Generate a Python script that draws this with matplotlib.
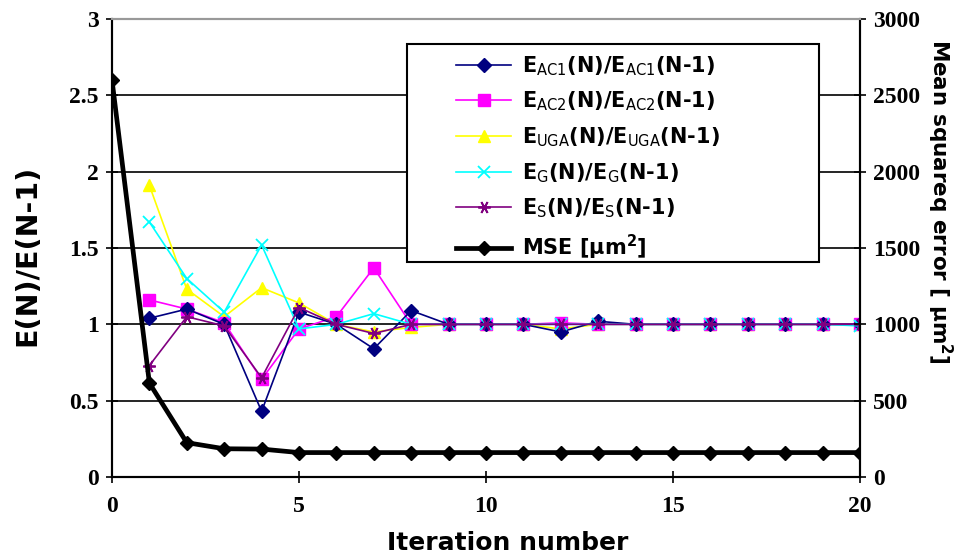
import matplotlib
matplotlib.use("Agg")
import matplotlib.pyplot as plt
from matplotlib.lines import Line2D
from matplotlib.patches import Rectangle
from matplotlib.font_manager import FontProperties

plt.rcParams['font.family'] = ['DejaVu Sans']
plt.rcParams['mathtext.fontset'] = 'custom'
plt.rcParams['mathtext.rm'] = 'DejaVu Sans'
plt.rcParams['mathtext.bf'] = 'DejaVu Sans:bold'
plt.rcParams['mathtext.it'] = 'DejaVu Sans:italic'

# ---- data ----
iters_ratio = [1, 2, 3, 4, 5, 6, 7, 8, 9, 10, 11, 12, 13, 14, 15, 16, 17, 18, 19, 20]
e_ac1 = [1.04, 1.10, 1.00, 0.43, 1.08, 1.00, 0.84, 1.09, 1.00, 1.00, 1.00, 0.95, 1.02, 1.00, 1.00, 1.00, 1.00, 1.00, 1.00, 1.00]
e_ac2 = [1.16, 1.10, 1.01, 0.64, 0.97, 1.05, 1.37, 1.00, 1.00, 1.00, 1.00, 1.01, 1.00, 1.00, 1.00, 1.00, 1.00, 1.00, 1.00, 1.00]
e_uga = [1.91, 1.23, 1.05, 1.24, 1.14, 1.00, 0.95, 0.98, 1.00, 1.00, 1.00, 0.97, 1.00, 1.00, 1.00, 1.00, 1.00, 1.00, 1.00, 1.00]
e_g   = [1.67, 1.30, 1.08, 1.52, 0.97, 1.00, 1.07, 1.00, 1.00, 1.00, 1.00, 1.00, 1.00, 1.00, 1.00, 1.00, 1.00, 1.00, 1.00, 0.99]
e_s   = [0.73, 1.05, 0.99, 0.65, 1.11, 1.00, 0.94, 1.00, 1.00, 1.00, 1.00, 1.00, 1.00, 1.00, 1.00, 1.00, 1.00, 1.00, 1.00, 1.00]
iters_mse = list(range(0, 21))
mse = [2600, 615, 225, 185, 183, 160, 160, 160, 160, 160, 160, 160, 160, 160, 160, 160, 160, 160, 160, 160, 160]

x_ticks = [0, 5, 10, 15, 20]
y_ticks = [0, 0.5, 1, 1.5, 2, 2.5, 3]
y_tick_labels = ['0', '0.5', '1', '1.5', '2', '2.5', '3']
y2_ticks = [0, 500, 1000, 1500, 2000, 2500, 3000]

labels = [r'E$_{\mathrm{AC1}}$(N)/E$_{\mathrm{AC1}}$(N-1)',
          r'E$_{\mathrm{AC2}}$(N)/E$_{\mathrm{AC2}}$(N-1)',
          r'E$_{\mathrm{UGA}}$(N)/E$_{\mathrm{UGA}}$(N-1)',
          r'E$_{\mathrm{G}}$(N)/E$_{\mathrm{G}}$(N-1)',
          r'E$_{\mathrm{S}}$(N)/E$_{\mathrm{S}}$(N-1)',
          r'MSE [μm$^{\mathbf{2}}$]']

fig = plt.figure(figsize=(9.65, 5.59), dpi=100)
ax = fig.add_axes([112/965, 1-477/559, (860-112)/965, (477-19)/559])
ax2 = ax.twinx()

tickfont = FontProperties(family='Liberation Serif', weight='bold', size=17)

asterisk = (6, 2, 90)
styles = [
    dict(color='#000080', marker='D', ms=7, lw=1.2),
    dict(color='#FF00FF', marker='s', ms=8, lw=1.2),
    dict(color='#FFFF00', marker='^', ms=9, lw=1.2),
    dict(color='#00FFFF', marker='x', ms=8, mew=1.3, lw=1.2),
    dict(color='#800080', marker=asterisk, ms=9, mew=1.3, lw=1.2),
]
mse_style = dict(color='black', marker='D', ms=7, lw=3.4)

for series, st, z in zip([e_ac1, e_ac2, e_uga, e_g, e_s], styles, [5, 4, 3, 6, 7]):
    ax.plot(iters_ratio, series, zorder=z, **st)

ax2.plot(iters_mse, mse, zorder=5, **mse_style)

ax.set_xlim(0, 20)
ax.set_ylim(0, 3)
ax2.set_ylim(0, 3000)
ax.set_xticks(x_ticks)
ax.set_yticks(y_ticks)
ax.set_yticklabels(y_tick_labels)
ax2.set_yticks(y2_ticks)

for a in (ax, ax2):
    a.tick_params(direction='inout', length=9, width=1.2, pad=5)
    for lab in a.get_xticklabels() + a.get_yticklabels():
        lab.set_fontproperties(tickfont)
ax.tick_params(axis='x', pad=9)

for y in [0.5, 1, 1.5, 2, 2.5]:
    ax.axhline(y, color='black', lw=1.2, zorder=1)

for a in (ax, ax2):
    a.spines['top'].set_color('#999999')
    for s in ['top', 'left', 'right', 'bottom']:
        a.spines[s].set_linewidth(1.5)

ax.set_xlabel('Iteration number', fontsize=18, fontweight='bold')
ax.xaxis.set_label_coords((508-112)/748, (477-543)/458)
ax.xaxis.label.set_va('center')

ax.set_ylabel('E(N)/E(N-1)', fontsize=20.5, fontweight='bold')
ax.yaxis.set_label_coords((27-112)/748, (477-255)/458)
ax.yaxis.label.set_va('center')

ax2.set_ylabel(r'Mean squareq error [ μm$^{\mathbf{2}}$]', fontsize=15.5, fontweight='bold',
               rotation=270)
ax2.yaxis.set_label_coords((940-112)/748, (477-201)/458)
ax2.yaxis.label.set_va('center')
ax2.yaxis.label.set_ha('center')

handles = [Line2D([], [], **st) for st in styles] + [Line2D([], [], **mse_style)]

frame = Rectangle((407/965, 1-262/559), (819-407)/965, (262-44)/559,
                  transform=fig.transFigure, facecolor='white', edgecolor='black',
                  lw=1.5, zorder=19)
ax2.add_patch(frame)
frame.set_clip_on(False)

leg = ax2.legend(handles, labels, loc='upper left', bbox_to_anchor=(456/965, 1-54/559),
                 bbox_transform=fig.transFigure, borderaxespad=0, frameon=False,
                 prop=dict(weight='bold', size=15), labelspacing=0.58,
                 handlelength=2.65, handletextpad=0.5, borderpad=0)
leg.set_zorder(20)

fig.savefig('out.png', dpi=100)
